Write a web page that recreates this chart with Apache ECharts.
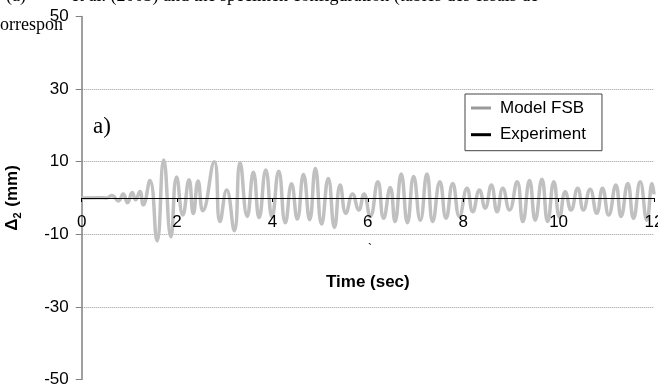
<!DOCTYPE html>
<html>
<head>
<meta charset="utf-8">
<script src="https://cdn.jsdelivr.net/npm/echarts@6/dist/echarts.min.js"></script>
<style>
html,body{margin:0;padding:0;background:#fff;}
#c{width:658px;height:387px;}
</style>
</head>
<body>
<div id="c"></div>
<script>
// ---- data ----
const xTicks = [0, 2, 4, 6, 8, 10, 12];
const yTicks = [-50, -30, -10, 10, 30, 50];
const times = [0,0.38,0.52,0.63,0.77,0.87,0.96,1.06,1.13,1.22,1.29,1.43,1.58,1.72,1.87,1.99,2.12,2.25,2.34,2.44,2.54,2.78,2.90,3.04,3.20,3.32,3.47,3.60,3.72,3.86,3.99,4.13,4.27,4.40,4.52,4.65,4.78,4.90,5.03,5.17,5.30,5.42,5.54,5.68,5.81,5.92,6.05,6.21,6.33,6.47,6.57,6.70,6.83,6.96,7.10,7.24,7.36,7.51,7.64,7.78,7.92,8.08,8.20,8.34,8.46,8.59,8.71,8.83,8.97,9.13,9.25,9.39,9.51,9.65,9.77,9.90,10.02,10.14,10.26,10.40,10.52,10.66,10.80,10.92,11.05,11.20,11.31,11.45,11.57,11.71,11.85,11.96,12.0];
const modelFSB = [0,0.1,0,0.7,-0.8,1.1,-1.3,1.5,-0.5,1.8,-1.9,4.8,-11.8,10.5,-10.7,5.8,-4.7,5,-4.3,4.7,-3.5,10,-6.5,2.2,-9,9.7,-5.1,7.1,-5.4,7.7,-5.2,7.4,-6.8,3.9,-5.8,6.5,-6,8.1,-7.2,5.4,-8.1,3.6,-4.2,1.1,-3.3,1.1,-5.1,4.5,-5.6,2.9,-6.5,6.6,-6.8,5.9,-6.1,6.6,-6.5,4.5,-5.6,4,-5.1,2.7,-3.8,2.2,-2.8,3.6,-3.8,2.7,-3.3,4.5,-6.5,4.8,-6.1,5.2,-6.5,4.5,-5.3,1.7,-3.3,2.7,-3.3,2.4,-4.2,2.7,-4.7,3.6,-5.1,4,-5.6,4.5,-6.1,4,1];
const experiment = [];
const seriesNames = ['Model FSB', 'Experiment'];
const xName = 'Time (sec)';

const SANS = '"Liberation Sans", Arial, sans-serif';
const SERIF = '"Liberation Serif", "Times New Roman", serif';

const GRID_TOP = 16.6, GRID_BOTTOM = 7.6;
const gridH = 387 - GRID_TOP - GRID_BOTTOM;
const yMin = yTicks[0], yMax = yTicks[yTicks.length - 1];
// horizontal axis crosses at value 0: shift it up from the grid bottom
const zeroOffset = -gridH * (0 - yMin) / (yMax - yMin);

const chart = echarts.init(document.getElementById('c'), null, {renderer: 'canvas'});
const modelData = times.map((t, i) => [t, modelFSB[i]]);

chart.setOption({
  backgroundColor: '#fff',
  animation: false,
  grid: {left: 81.7, right: 4, top: GRID_TOP, bottom: GRID_BOTTOM, containLabel: false, outerBoundsMode: 'none'},
  xAxis: {
    type: 'value', min: xTicks[0], max: xTicks[xTicks.length - 1], interval: 2,
    z: 10, position: 'bottom', offset: zeroOffset,
    axisLine: {show: true, onZero: false, lineStyle: {color: '#000', width: 1}},
    axisTick: {show: true, length: 4, lineStyle: {color: '#000'}},
    axisLabel: {fontSize: 17, color: '#000', margin: 16, fontFamily: SANS, showMaxLabel: true, showMinLabel: true, hideOverlap: false},
    splitLine: {show: false},
    name: xName, nameLocation: 'middle', nameGap: 76,
    nameTextStyle: {fontWeight: 'bold', fontSize: 17, color: '#000', fontFamily: SANS}
  },
  yAxis: {
    type: 'value', min: yMin, max: yMax, interval: 20,
    axisLine: {show: true, onZero: false, lineStyle: {color: '#808080', width: 1.5}},
    axisTick: {show: true, length: 6, lineStyle: {color: '#808080'}},
    axisLabel: {fontSize: 17, color: '#000', margin: 13, fontFamily: SANS},
    splitLine: {show: true, showMinLine: false, showMaxLine: false, lineStyle: {color: '#9a9a9a', type: 'dotted', width: 1}},
    name: '{d|Δ}{s|2}{d| (mm)}', nameLocation: 'middle', nameGap: 58,
    nameTextStyle: {
      color: '#000', fontFamily: SANS,
      rich: {
        d: {fontWeight: 'bold', fontSize: 17, fontFamily: SANS, color: '#000', lineHeight: 22},
        s: {fontWeight: 'bold', fontSize: 11, fontFamily: SANS, color: '#000', lineHeight: 22, verticalAlign: 'bottom', padding: [6, 1, 0, 0]}
      }
    }
  },
  legend: {
    orient: 'vertical', left: 465, top: 94,
    padding: [4, 16, 6, 6],
    itemGap: 6.7, itemWidth: 20, itemHeight: 3,
    icon: 'rect',
    backgroundColor: '#fff', borderColor: '#444', borderWidth: 1,
    textStyle: {fontSize: 17, color: '#000', fontFamily: SANS, lineHeight: 20, padding: [0, 0, 0, 4]},
    data: [
      {name: seriesNames[0], itemStyle: {color: '#9a9a9a'}},
      {name: seriesNames[1], itemStyle: {color: '#000'}}
    ]
  },
  series: [
    {
      name: seriesNames[0], type: 'line', data: modelData,
      showSymbol: false, symbol: 'none', smooth: 0.5,
      lineStyle: {color: '#c0c0c0', width: 3.5}, itemStyle: {color: '#c0c0c0'}, z: 2
    },
    {
      name: seriesNames[1], type: 'line', data: experiment,
      showSymbol: false, symbol: 'none',
      lineStyle: {color: '#000', width: 2}, itemStyle: {color: '#000'}, z: 3
    }
  ],
  graphic: [
    {type: 'text', x: 93, y: 127, style: {text: 'a)', font: '23px ' + SERIF, fill: '#000', verticalAlign: 'middle'}},
    {type: 'text', x: 0, y: 25.6, z: -1, style: {text: 'orrespon', font: '18px ' + SERIF, fill: '#000', verticalAlign: 'middle'}},
    {type: 'text', x: 6, y: -4, z: -1, style: {text: '(a)          et al. (2003) and the specimen configuration (tables des essais de', font: '18px ' + SERIF, fill: '#000', verticalAlign: 'middle'}},
    {type: 'text', x: 368, y: 250, style: {text: '`', font: '12px ' + SANS, fill: '#000', verticalAlign: 'middle'}}
  ]
});
</script>
</body>
</html>
